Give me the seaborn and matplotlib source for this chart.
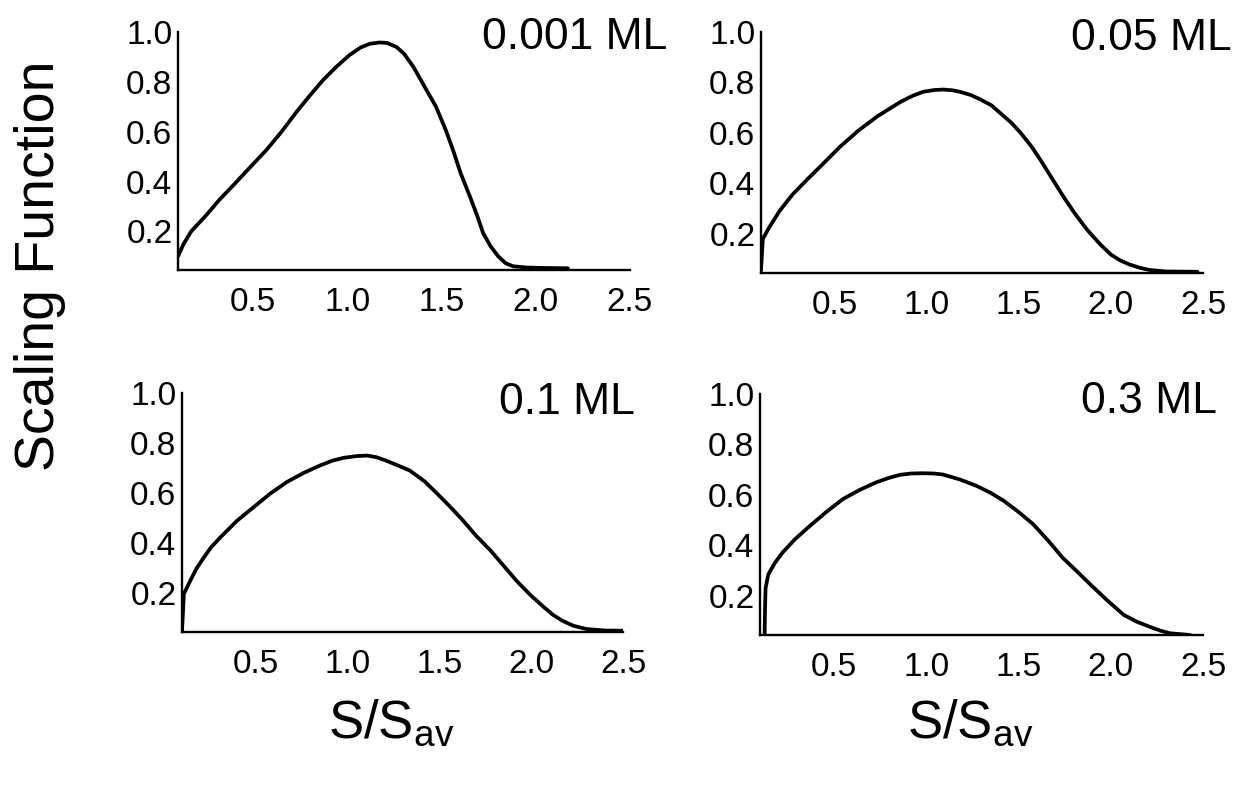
import numpy as np
import pandas as pd
import matplotlib
matplotlib.use("Agg")
import matplotlib.pyplot as plt
import seaborn as sns

# ---- data ----
panel_titles = ["0.001 ML", "0.05 ML", "0.1 ML", "0.3 ML"]

x_001 = [0.10, 0.13, 0.17, 0.25, 0.32, 0.40, 0.48, 0.57, 0.65, 0.73, 0.80, 0.87, 0.94, 1.01, 1.07,
         1.12, 1.17, 1.21, 1.26, 1.30, 1.35, 1.40, 1.44, 1.47, 1.52, 1.56, 1.60, 1.65, 1.69, 1.72,
         1.76, 1.80, 1.84, 1.88, 1.95, 2.05, 2.17]
y_001 = [0.10, 0.15, 0.20, 0.265, 0.327, 0.39, 0.455, 0.527, 0.60, 0.68, 0.745, 0.807, 0.86, 0.907, 0.938,
         0.953, 0.958, 0.956, 0.94, 0.913, 0.86, 0.793, 0.74, 0.70, 0.61, 0.527, 0.435, 0.34, 0.26, 0.193,
         0.14, 0.10, 0.072, 0.06, 0.055, 0.053, 0.052]

x_005 = [0.100, 0.105, 0.11, 0.14, 0.20, 0.27, 0.35, 0.44, 0.53, 0.63, 0.73, 0.80, 0.86, 0.92, 0.98,
         1.04, 1.09, 1.14, 1.18, 1.24, 1.29, 1.35, 1.40, 1.46, 1.51, 1.57, 1.62, 1.68, 1.74, 1.80,
         1.87, 1.94, 2.00, 2.05, 2.10, 2.16, 2.21, 2.30, 2.47]
y_005 = [0.055, 0.12, 0.18, 0.22, 0.29, 0.355, 0.415, 0.48, 0.546, 0.61, 0.665, 0.697, 0.724, 0.746, 0.763,
         0.770, 0.772, 0.769, 0.763, 0.75, 0.733, 0.71, 0.678, 0.64, 0.60, 0.545, 0.49, 0.42, 0.35, 0.285,
         0.217, 0.16, 0.118, 0.095, 0.079, 0.065, 0.057, 0.051, 0.05]

x_01 = [0.100, 0.105, 0.11, 0.145, 0.18, 0.22, 0.26, 0.31, 0.40, 0.49, 0.58, 0.67, 0.76, 0.85, 0.92,
        0.98, 1.05, 1.11, 1.16, 1.21, 1.27, 1.34, 1.42, 1.49, 1.56, 1.63, 1.70, 1.78, 1.85, 1.92,
        2.00, 2.07, 2.12, 2.17, 2.23, 2.30, 2.40, 2.50]
y_01 = [0.05, 0.12, 0.197, 0.25, 0.30, 0.344, 0.385, 0.424, 0.49, 0.544, 0.598, 0.644, 0.68, 0.71, 0.73,
        0.741, 0.748, 0.75, 0.743, 0.73, 0.712, 0.69, 0.647, 0.597, 0.545, 0.49, 0.43, 0.37, 0.31, 0.25,
        0.19, 0.144, 0.113, 0.09, 0.07, 0.057, 0.051, 0.05]

x_03 = [0.125, 0.127, 0.13, 0.145, 0.18, 0.22, 0.29, 0.37, 0.46, 0.55, 0.64, 0.73, 0.80, 0.86, 0.92,
        0.98, 1.04, 1.09, 1.18, 1.27, 1.35, 1.42, 1.50, 1.58, 1.66, 1.74, 1.82, 1.89, 1.98, 2.07,
        2.14, 2.21, 2.27, 2.32, 2.43]
y_03 = [0.045, 0.14, 0.23, 0.285, 0.33, 0.37, 0.425, 0.477, 0.533, 0.584, 0.62, 0.65, 0.668, 0.68, 0.685,
        0.686, 0.685, 0.681, 0.662, 0.637, 0.608, 0.577, 0.533, 0.484, 0.42, 0.351, 0.295, 0.245, 0.183, 0.125,
        0.098, 0.078, 0.062, 0.052, 0.045]

x_ticks = [0.5, 1.0, 1.5, 2.0, 2.5]
x_tick_labels = ["0.5", "1.0", "1.5", "2.0", "2.5"]
y_ticks = [0.2, 0.4, 0.6, 0.8, 1.0]
y_tick_labels = ["0.2", "0.4", "0.6", "0.8", "1.0"]

series = [(x_001, y_001), (x_005, y_005), (x_01, y_01), (x_03, y_03)]

# ---- styling ----
sns.set_style("white")
plt.rcParams["font.family"] = ["Liberation Sans", "DejaVu Sans"]
plt.rcParams["mathtext.fontset"] = "custom"
plt.rcParams["mathtext.rm"] = "Liberation Sans"

W, H = 1250, 789
fig = plt.figure(figsize=(W / 100, H / 100), dpi=100)

# panel rectangles in pixels: left, right, top(y=1.0), bottom
rects_px = [(178, 630, 32, 270), (761, 1203, 32, 273), (182, 623, 393, 632), (760, 1203, 394, 635)]
title_pos = [(1.082, 0.975), (1.066, 0.975), (1.027, 0.962), (1.032, 0.967)]

for i, ((xs, ys), (l, r, t, b)) in enumerate(zip(series, rects_px)):
    ax = fig.add_axes([l / W, 1 - b / H, (r - l) / W, (b - t) / H])
    df = pd.DataFrame({"x": xs, "y": ys})
    sns.lineplot(data=df, x="x", y="y", ax=ax, color="black", linewidth=2.7,
                 estimator=None, sort=False)
    ax.set_xlim(0.1, 2.5)
    ax.set_ylim(0.045, 1.0)
    ax.set_xticks(x_ticks)
    ax.set_xticklabels(x_tick_labels)
    ax.set_yticks(y_ticks)
    ax.set_yticklabels(y_tick_labels)
    ax.set_xlabel("")
    ax.set_ylabel("")
    for s in ["top", "right"]:
        ax.spines[s].set_visible(False)
    for s in ["left", "bottom"]:
        ax.spines[s].set_linewidth(1.7)
        ax.spines[s].set_color("black")
    ax.tick_params(axis="y", direction="in", length=7, width=1.5, pad=4, labelsize=24, colors="black")
    ax.tick_params(axis="x", length=0, pad=12, labelsize=24, colors="black")
    ax.patch.set_alpha(0)
    ax.text(title_pos[i][0], title_pos[i][1], panel_titles[i], transform=ax.transAxes,
            ha="right", va="center", fontsize=32, color="black", clip_on=False)

fig.text(40 / W, 1 - 266 / H, "Scaling Function", rotation=90, ha="center", va="center",
         fontsize=40, color="black")
fig.text(391 / W, 1 - 724 / H, r"S/S$_{\mathregular{av}}$", ha="center", va="center",
         fontsize=38, color="black")
fig.text(970 / W, 1 - 724 / H, r"S/S$_{\mathregular{av}}$", ha="center", va="center",
         fontsize=38, color="black")

fig.savefig("out.png", dpi=100, facecolor="white")
